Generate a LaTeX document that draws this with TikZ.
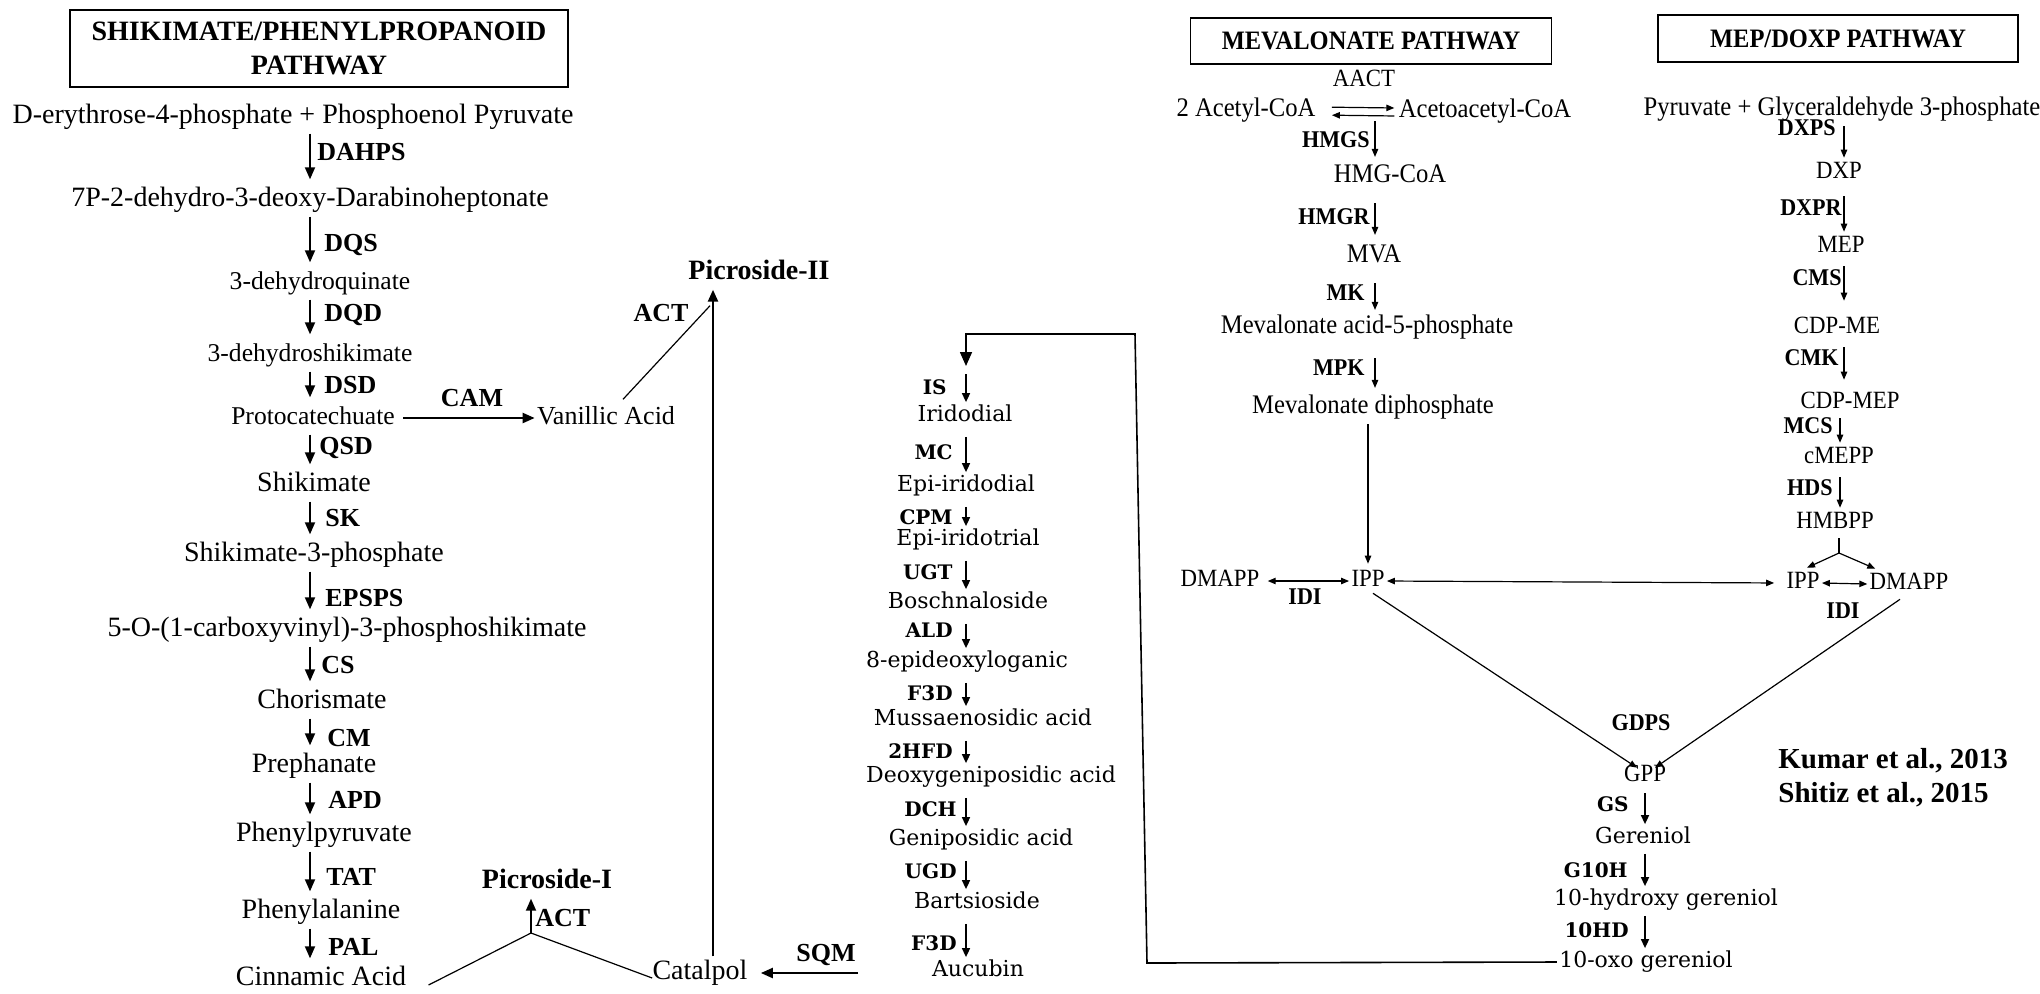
\documentclass[tikz,border=0pt]{standalone}
\usepackage{fontspec}
\setmainfont{Liberation Serif}
\newfontfamily\midfont{DejaVu Serif}
\newfontfamily\rfont[FakeStretch=0.92]{Liberation Serif}
\usetikzlibrary{arrows.meta,calc}
\begin{document}
\begin{tikzpicture}[x=0.5pt,y=-0.5pt,
  Lt/.style={font=\fontsize{14}{16}\selectfont, inner xsep=1pt, inner ysep=2pt, text height=9.3pt, text depth=3pt},
  Ls/.style={font=\fontsize{12.8}{15}\selectfont, inner xsep=1pt, inner ysep=2pt, text height=9.3pt, text depth=3pt},
  Lbold/.style={font=\fontsize{14}{16}\selectfont\bfseries, inner xsep=1pt, inner ysep=2pt, text height=9.3pt, text depth=3pt},
  Lb/.style={font=\fontsize{13}{15}\selectfont\bfseries, inner sep=0pt, anchor=west},
  arrL/.style={-{Triangle[length=6pt,width=5pt]}, line width=0.9pt},
  thinl/.style={line width=0.6pt},
  Mt/.style={font=\midfont\fontsize{11}{13}\selectfont, inner xsep=1pt, inner ysep=1.5pt, text height=8pt, text depth=2.5pt},
  Mb/.style={font=\midfont\fontsize{10}{12}\selectfont\bfseries, inner sep=0pt, anchor=east},
  arrM/.style={-{Triangle[length=4.5pt,width=4pt]}, line width=0.8pt, shorten <=3.5pt},
  Rt/.style={font=\rfont\fontsize{13.4}{15}\selectfont, inner xsep=1pt, inner ysep=2pt, text height=8.8pt, text depth=2.9pt},
  Rs/.style={font=\rfont\fontsize{12.4}{14}\selectfont, inner xsep=1pt, inner ysep=2pt, text height=8.2pt, text depth=2.7pt},
  Rb/.style={font=\rfont\fontsize{12}{14}\selectfont\bfseries, inner sep=0pt},
  Rh/.style={font=\rfont\fontsize{13.3}{15}\selectfont\bfseries},
  arrR/.style={-{Triangle[length=4pt,width=3.2pt]}, line width=0.6pt},
  dbl/.style={{Triangle[length=4pt,width=3.2pt]}-{Triangle[length=4pt,width=3.2pt]}, line width=0.6pt},
  hdr/.style={draw, line width=0.7pt, align=center, inner sep=0pt},
  cite/.style={font=\fontsize{14.5}{16}\selectfont\bfseries, inner sep=0pt, anchor=west},
]
\useasboundingbox (0,0) rectangle (2040,993);

% ================= SHIKIMATE / PHENYLPROPANOID =================
\node[hdr, minimum width=249pt, minimum height=38.5pt, font=\fontsize{14}{17}\selectfont\bfseries] (shbox) at (319,48.5) {SHIKIMATE/PHENYLPROPANOID\\PATHWAY};

\node[Lt] (e4p)   at (293,117) {D-erythrose-4-phosphate + Phosphoenol Pyruvate};
\node[Lt] (dahp)  at (310,200) {7P-2-dehydro-3-deoxy-Darabinoheptonate};
\node[Ls] (dhq)   at (320,283) {3-dehydroquinate};
\node[Ls] (dhs)   at (310,355) {3-dehydroshikimate};
\node[Ls] (pca)   at (313,418) {Protocatechuate};
\node[Lt] (shik)  at (314,485) {Shikimate};
\node[Lt] (s3p)   at (314,555) {Shikimate-3-phosphate};
\node[Lt] (epsp)  at (347,630) {5-O-(1-carboxyvinyl)-3-phosphoshikimate};
\node[Lt] (chor)  at (322,702) {Chorismate};
\node[Lt] (preph) at (314,766) {Prephanate};
\node[Lt] (phpyr) at (324,835) {Phenylpyruvate};
\node[Lt] (phala) at (321,912) {Phenylalanine};
\node[Lt] (cinn)  at (321,979) {Cinnamic Acid};

\coordinate (Lx) at (310,0);
\foreach \a/\b in {e4p/dahp,dahp/dhq,dhq/dhs,dhs/pca,pca/shik,shik/s3p,s3p/epsp,epsp/chor,chor/preph,preph/phpyr,phpyr/phala,phala/cinn}
  \draw[arrL, shorten >=2pt] (\a.south -| Lx) -- (\b.north -| Lx);

\node[Lb] (l1)  at (317,152) {DAHPS};
\node[Lb] (l2)  at (324,245) {DQS};
\node[Lb] (l3)  at (324,315) {DQD};
\node[Lb] (l4)  at (324,385) {DSD};
\node[Lb] (l5)  at (319,448) {QSD};
\node[Lb] (l6)  at (325,518) {SK};
\node[Lb] (l7)  at (325,598) {EPSPS};
\node[Lb] (l8)  at (321,665) {CS};
\node[Lb] (l9)  at (327,738) {CM};
\node[Lb] (l10) at (328,800) {APD};
\node[Lb] (l11) at (326,877) {TAT};
\node[Lb] (l12) at (328,947) {PAL};

% Vanillic acid / Picrosides
\node[Lt, font=\fontsize{13}{15}\selectfont] (van) at (606,418) {Vanillic Acid};
\node[Lbold] (pic2) at (759,273) {Picroside-II};
\node[Lbold] (pic1) at (547,882) {Picroside-I};
\node[Lt] (cat) at (700,973) {Catalpol};

\draw[arrL, line width=1.1pt, shorten <=3pt] (pca.east) -- (van.west);
\node[Lb, anchor=center] (cam) at (472,398) {CAM};

\coordinate (vx) at (713,0);
\draw[arrL, line width=1.2pt] (cat.north -| vx) -- (pic2.south -| vx);
\draw[thinl] ($(van.north)+(17,-2)$) -- ($(pic2.south -| vx)+(-3,16)$);
\node[Lb, anchor=center] (act2) at (661,313) {ACT};

\coordinate (apex) at (531,933);
\draw[thinl] ($(cinn.east)+(20,6)$) -- (apex) -- ($(cat.west)+(2,5)$);
\draw[arrL] (apex) -- (pic1.south -| apex);
\node[Lb] (act1) at (535,918) {ACT};

\coordinate (sqmS) at (858,973);
\draw[arrL, line width=1.1pt, shorten >=5.5pt] (sqmS) -- (cat.east);
\node[Lb, anchor=center] (sqm) at (826,955) {SQM};

% ================= IRIDOID (middle) =================
\node[Mt] (irid)    at (965,416) {Iridodial};
\node[Mt] (epiirid) at (966,486) {Epi-iridodial};
\node[Mt] (epitri)  at (968,540) {Epi-iridotrial};
\node[Mt] (bosch)   at (968,603) {Boschnaloside};
\node[Mt] (epidl)   at (967,662) {8-epideoxyloganic};
\node[Mt] (muss)    at (983,720) {Mussaenosidic acid};
\node[Mt] (deoxy)   at (991,777) {Deoxygeniposidic acid};
\node[Mt] (genip)   at (981,840) {Geniposidic acid};
\node[Mt] (barts)   at (977,903) {Bartsioside};
\node[Mt] (auc)     at (978,971) {Aucubin};

\coordinate (Mx) at (966,0);
\foreach \a/\b in {irid/epiirid,epiirid/epitri,epitri/bosch,bosch/epidl,epidl/muss,muss/deoxy,deoxy/genip,genip/barts,barts/auc}
  \draw[arrM] (\a.south -| Mx) -- (\b.north -| Mx);

\coordinate (isTop) at (966,374);
\draw[-{Triangle[length=4.5pt,width=4pt]}, line width=0.8pt] (isTop) -- (irid.north -| Mx);

\node[Mb] (m1)  at (947,387) {IS};
\node[Mb] (m2)  at (953,452) {MC};
\node[Mb] (m3)  at (953,517) {CPM};
\node[Mb] (m4)  at (953,572) {UGT};
\node[Mb] (m5)  at (953,630) {ALD};
\node[Mb] (m6)  at (953,693) {F3D};
\node[Mb] (m7)  at (953,751) {2HFD};
\node[Mb] (m8)  at (957,809) {DCH};
\node[Mb] (m9)  at (957,871) {UGD};
\node[Mb] (m10) at (957,943) {F3D};

% ================= MEVALONATE =================
\node[hdr, Rh, minimum width=180.5pt, minimum height=23pt] (mvbox) at (1371,41) {MEVALONATE PATHWAY};
\node[hdr, Rh, minimum width=180pt, minimum height=23.5pt] (mpbox) at (1838,38.5) {MEP/DOXP PATHWAY};

\node[Rs, inner sep=0pt] (aact) at (1364,81) {AACT};
\node[Rt] (acy)  at (1246,111) {2 Acetyl-CoA};
\node[Rt] (acac) at (1485,112) {Acetoacetyl-CoA};
\draw[arrR, shorten <=7pt, shorten >=1pt] ([yshift=2pt]acy.east) -- ([yshift=2pt]acac.west);
\draw[arrR, shorten <=1pt, shorten >=7pt] ([yshift=-2pt]acac.west) -- ([yshift=-2pt]acy.east);

\node[Rt] (hmgcoa) at (1390,177) {HMG-CoA};
\node[Rt] (mva)    at (1374,257) {MVA};
\node[Rt] (mev5p)  at (1367,328) {Mevalonate acid-5-phosphate};
\node[Rt] (mevdp)  at (1373,408) {Mevalonate diphosphate};

\coordinate (Vx) at (1375,0);
\coordinate (aaJ) at (1375,121);
\draw[arrR, shorten >=2pt] (aaJ) -- (hmgcoa.north -| Vx);
\draw[arrR, shorten <=5pt, shorten >=3pt] (hmgcoa.south -| Vx) -- (mva.north -| Vx);
\draw[arrR, shorten <=5pt, shorten >=1pt] (mva.south -| Vx) -- (mev5p.north -| Vx);
\draw[arrR, shorten <=7pt, shorten >=2pt] (mev5p.south -| Vx) -- (mevdp.north -| Vx);

\node[Rb, anchor=east] (r1) at (1370,140) {HMGS};
\node[Rb, anchor=east] (r2) at (1370,217) {HMGR};
\node[Rb, anchor=east] (r3) at (1365,293) {MK};
\node[Rb, anchor=east] (r4) at (1365,368) {MPK};

\node[Rs] (dmappL) at (1220,581) {DMAPP};
\node[Rs] (ippL)   at (1368,581) {IPP};
\node[Rb] (idiL)   at (1305,597) {IDI};
\draw[arrR, shorten >=1pt] (mevdp.south -| ippL) -- (ippL.north);
\draw[dbl, shorten <=3pt] (dmappL.east) -- (ippL.west);

% ================= MEP / DOXP =================
\node[Rt] (pyr)    at (1842,110) {Pyruvate + Glyceraldehyde 3-phosphate};
\node[Rs] (dxp)    at (1839,173) {DXP};
\node[Rs] (mep)    at (1841,247) {MEP};
\node[Rs] (cdpme)  at (1837,328) {CDP-ME};
\node[Rs] (cdpmep) at (1850,403) {CDP-MEP};
\node[Rs] (cmepp)  at (1839,458) {cMEPP};
\node[Rs] (hmbpp)  at (1835,523) {HMBPP};

\coordinate (Px) at (1844,0);
\draw[arrR] (pyr.south -| Px) -- (dxp.north -| Px);
\draw[arrR, shorten <=4pt] (dxp.south -| Px) -- (mep.north -| Px);
\draw[arrR, shorten <=2pt, shorten >=6pt] (mep.south -| Px) -- (cdpme.north -| Px);
\draw[arrR, shorten <=2pt, shorten >=4pt] (cdpme.south -| Px) -- (cdpmep.north -| Px);
\coordinate (Px2) at (1840,0);
\draw[arrR] (cdpmep.south -| Px2) -- (cmepp.north -| Px2);
\draw[arrR, shorten <=2pt] (cmepp.south -| Px2) -- (hmbpp.north -| Px2);

\node[Rb, anchor=east] (p1) at (1836,128) {DXPS};
\node[Rb, anchor=east] (p2) at (1842,208) {DXPR};
\node[Rb, anchor=east] (p3) at (1842,278) {CMS};
\node[Rb, anchor=east] (p4) at (1839,358) {CMK};
\node[Rb, anchor=east] (p5) at (1833,426) {MCS};
\node[Rb, anchor=east] (p6) at (1833,488) {HDS};

\node[Rs] (ippR)   at (1803,583) {IPP};
\node[Rs] (dmappR) at (1909,584) {DMAPP};
\node[Rb] (idiR)   at (1843,611) {IDI};
\coordinate (brJ) at (1839,553);
\draw[line width=0.6pt] (hmbpp.south -| brJ) -- (brJ);
\draw[arrR] (brJ) -- ($(ippR.north)+(4,0)$);
\draw[arrR] (brJ) -- ($(dmappR.north west)+(8,0)$);
\draw[dbl] (ippR.east) -- (dmappR.west);
\draw[dbl, shorten >=5pt] (ippL.east) -- (ippR.west);

% ================= GPP -> 10-oxo gereniol =================
\node[Rs] (gpp)  at (1645,776) {GPP};
\node[Mt] (ger)  at (1643,838) {Gereniol};
\node[Mt] (hger) at (1666,900) {10-hydroxy gereniol};
\node[Mt] (oxo)  at (1646,962) {10-oxo gereniol};
\node[Rb] (gdps) at (1641,723) {GDPS};

\draw[arrR] ($(ippL.south)+(5,-3)$) -- ($(gpp.north)+(-8,7)$);
\draw[arrR] ($(dmappR.south)+(-9,0)$) -- ($(gpp.north)+(10,7)$);

\coordinate (Gx) at (1645,0);
\draw[arrM, shorten <=1pt] (gpp.south -| Gx) -- (ger.north -| Gx);
\draw[arrM, shorten <=1pt] (ger.south -| Gx) -- (hger.north -| Gx);
\draw[arrM, shorten <=1pt] (hger.south -| Gx) -- (oxo.north -| Gx);
\node[Mb] (g1) at (1629,804) {GS};
\node[Mb] (g2) at (1628,870) {G10H};
\node[Mb] (g3) at (1629,930) {10HD};

% loop back to iridoid pathway
\coordinate (lpA) at (1147,963);
\coordinate (lpB) at (1135,334);
\coordinate (lpC) at (966,334);
\coordinate (lpD) at (966,366);
\draw[line width=0.8pt, -{Triangle[length=7pt,width=6pt]}] (oxo.west) -- (lpA) -- (lpB) -- (lpC) -- (lpD);

% citations
\node[cite] (cit1) at (1778,761) {Kumar et al., 2013};
\node[cite] (cit2) at (1778,795) {Shitiz et al., 2015};
\end{tikzpicture}
\end{document}
